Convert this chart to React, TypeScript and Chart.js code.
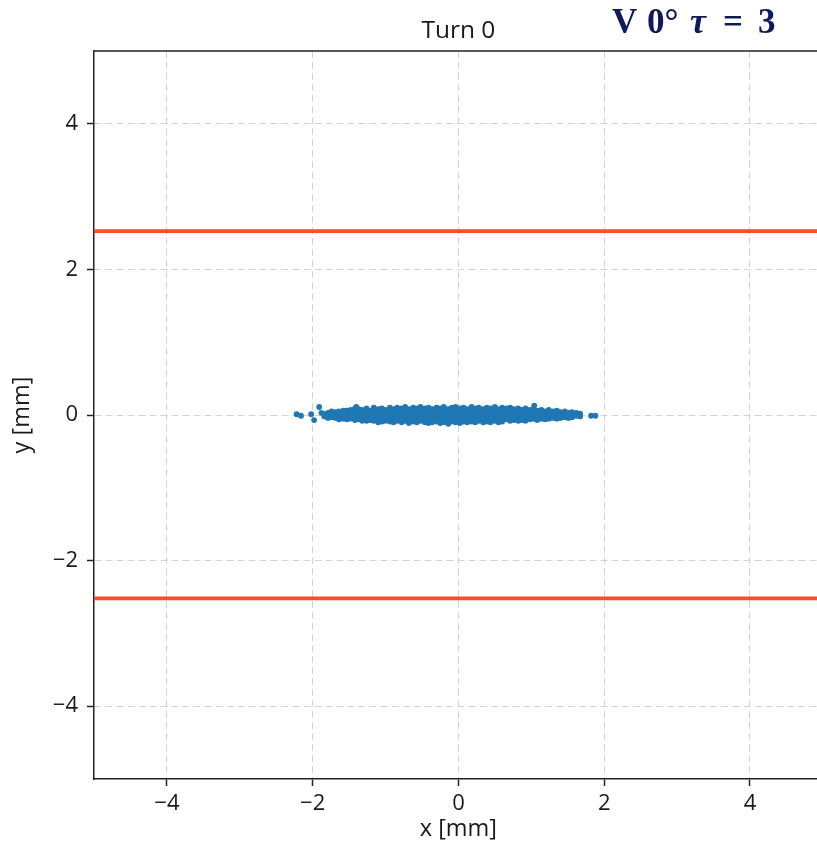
import { useEffect, useRef } from "react";
import { Chart, registerables } from "chart.js";

Chart.register(...registerables);

const X_MIN = -5;
const X_MAX = 4.92;
const Y_MIN = -5;
const Y_MAX = 5;
const xTickValues = [-4, -2, 0, 2, 4];
const yTickValues = [-4, -2, 0, 2, 4];
const limitLines = [2.525, -2.52];

// particle cloud: [x, list of y values in that column]
const cloudColumns: [number, number[]][] = [
  [-1.84, [0.01, -0.02]],
  [-1.79, [0.03, -0.01, -0.04]],
  [-1.74, [0.02, -0.03, 0.05]],
  [-1.69, [0.04, 0.0, -0.04]],
  [-1.64, [0.05, 0.01, -0.03, -0.06]],
  [-1.58, [0.03, -0.02, -0.05, 0.06]],
  [-1.53, [0.06, 0.02, -0.02, -0.06]],
  [-1.48, [0.07, 0.03, -0.01, -0.05]],
  [-1.42, [0.05, 0.01, -0.04, -0.07, 0.09]],
  [-1.37, [0.08, 0.03, -0.02, -0.06]],
  [-1.32, [0.07, 0.02, -0.03, -0.08]],
  [-1.26, [0.09, 0.04, 0.0, -0.05, -0.08]],
  [-1.21, [0.06, 0.02, -0.03, -0.07]],
  [-1.16, [0.1, 0.05, 0.0, -0.04, -0.08]],
  [-1.1, [0.08, 0.03, -0.02, -0.07, -0.1]],
  [-1.05, [0.09, 0.04, -0.01, -0.05, -0.09]],
  [-1.0, [0.07, 0.02, -0.03, -0.08]],
  [-0.94, [0.1, 0.05, 0.0, -0.04, -0.09]],
  [-0.89, [0.08, 0.03, -0.02, -0.06, -0.1]],
  [-0.84, [0.1, 0.06, 0.01, -0.04, -0.08]],
  [-0.78, [0.09, 0.04, -0.01, -0.06, -0.1]],
  [-0.73, [0.11, 0.06, 0.01, -0.03, -0.08]],
  [-0.68, [0.08, 0.03, -0.02, -0.07, -0.11]],
  [-0.62, [0.1, 0.05, 0.0, -0.05, -0.09]],
  [-0.57, [0.09, 0.04, -0.01, -0.06, -0.1]],
  [-0.52, [0.11, 0.06, 0.02, -0.03, -0.08]],
  [-0.46, [0.09, 0.04, -0.01, -0.05, -0.1]],
  [-0.41, [0.1, 0.05, 0.0, -0.06, -0.11]],
  [-0.36, [0.08, 0.03, -0.02, -0.07, -0.1]],
  [-0.3, [0.1, 0.06, 0.01, -0.04, -0.09]],
  [-0.25, [0.09, 0.04, -0.01, -0.06, -0.11]],
  [-0.2, [0.11, 0.05, 0.0, -0.05, -0.1]],
  [-0.14, [0.08, 0.03, -0.02, -0.07, -0.12]],
  [-0.09, [0.1, 0.06, 0.01, -0.04, -0.09]],
  [-0.04, [0.11, 0.05, 0.0, -0.05, -0.1]],
  [0.02, [0.09, 0.04, -0.01, -0.06, -0.11]],
  [0.07, [0.1, 0.05, 0.0, -0.04, -0.09]],
  [0.12, [0.08, 0.03, -0.02, -0.07, -0.1]],
  [0.18, [0.11, 0.06, 0.01, -0.05, -0.09]],
  [0.23, [0.09, 0.04, -0.01, -0.06, -0.1]],
  [0.28, [0.1, 0.05, 0.0, -0.04, -0.08]],
  [0.34, [0.08, 0.03, -0.02, -0.07, -0.1]],
  [0.39, [0.1, 0.06, 0.01, -0.05, -0.09]],
  [0.44, [0.09, 0.04, -0.01, -0.06, -0.1]],
  [0.5, [0.11, 0.05, 0.0, -0.04, -0.08]],
  [0.55, [0.08, 0.03, -0.02, -0.07, -0.1]],
  [0.6, [0.1, 0.05, 0.0, -0.05, -0.09]],
  [0.66, [0.09, 0.04, -0.01, -0.06]],
  [0.71, [0.1, 0.06, 0.01, -0.04, -0.08]],
  [0.76, [0.08, 0.03, -0.02, -0.07]],
  [0.82, [0.09, 0.05, 0.0, -0.05, -0.08]],
  [0.87, [0.07, 0.02, -0.03, -0.07]],
  [0.92, [0.09, 0.04, 0.0, -0.05, -0.08]],
  [0.98, [0.07, 0.03, -0.02, -0.06]],
  [1.03, [0.08, 0.04, -0.01, -0.05]],
  [1.08, [0.06, 0.02, -0.03, -0.07]],
  [1.14, [0.07, 0.03, -0.01, -0.05]],
  [1.19, [0.05, 0.01, -0.03, -0.06]],
  [1.24, [0.07, 0.02, -0.02, -0.05]],
  [1.3, [0.05, 0.01, -0.04]],
  [1.35, [0.06, 0.02, -0.02, -0.05]],
  [1.4, [0.04, 0.0, -0.04]],
  [1.46, [0.05, 0.01, -0.03]],
  [1.51, [0.03, -0.01, -0.04]],
  [1.56, [0.04, 0.0, -0.03]],
  [1.62, [0.03, -0.01]],
  [1.67, [0.02, -0.02]],
];

const strayParticles: [number, number][] = [
  [-2.22, 0.01],
  [-2.16, -0.01],
  [-2.02, 0.01],
  [-1.98, -0.07],
  [-1.91, 0.11],
  [-1.88, 0.03],
  [-1.4, 0.11],
  [1.04, 0.13],
  [1.82, -0.01],
  [1.88, -0.01],
];

const TEXT_FONT = "'Open Sans', 'DejaVu Sans', sans-serif";
const TEXT_COLOR = "#1a1a1a";
const MATH_FONT = "'Liberation Serif', 'DejaVu Serif', serif";

const fmt = (v: number) => (v < 0 ? "\u2212" + Math.abs(v) : String(v));

const overlayPlugin = {
  id: "overlay",
  afterDraw(chart: any) {
    const { ctx, chartArea } = chart;
    ctx.save();
    // top frame
    ctx.strokeStyle = "#222222";
    ctx.lineWidth = 1.5;
    ctx.beginPath();
    ctx.moveTo(chartArea.left, chartArea.top);
    ctx.lineTo(chartArea.right, chartArea.top);
    ctx.stroke();

    const xs = chart.scales.x;
    const cx = (xs.getPixelForValue(-5) + xs.getPixelForValue(5)) / 2;

    ctx.fillStyle = TEXT_COLOR;
    ctx.textAlign = "center";
    ctx.textBaseline = "alphabetic";
    ctx.font = `24.5px ${TEXT_FONT}`;
    ctx.fillText("Turn 0", cx, 38);

    ctx.font = `23.5px ${TEXT_FONT}`;
    ctx.fillText("x [mm]", cx, 836);

    ctx.save();
    ctx.translate(29, (chartArea.top + chartArea.bottom) / 2);
    ctx.rotate(-Math.PI / 2);
    ctx.fillText("y [mm]", 0, 0);
    ctx.restore();

    // annotation
    ctx.fillStyle = "#111a58";
    ctx.textAlign = "left";
    ctx.font = `bold 35px ${MATH_FONT}`;
    ctx.fillText("V", 612, 33);
    ctx.fillText("0°", 647, 33);
    ctx.font = `bold italic 36px ${MATH_FONT}`;
    ctx.fillText("\u03C4", 690, 33);
    ctx.font = `bold 35px ${MATH_FONT}`;
    ctx.fillText("=", 723, 33);
    ctx.fillText("3", 758, 33);
    ctx.restore();
  },
};

export default function App() {
  const ref = useRef<HTMLCanvasElement | null>(null);

  useEffect(() => {
    if (!ref.current) return;
    const points: { x: number; y: number }[] = [];
    cloudColumns.forEach(([x, ys]) => ys.forEach((y) => points.push({ x, y })));
    strayParticles.forEach(([x, y]) => points.push({ x, y }));

    const lineSets = limitLines.map((y) => ({
      type: "line" as const,
      data: [
        { x: X_MIN, y },
        { x: X_MAX, y },
      ],
      borderColor: "#ff4b2b",
      borderWidth: 3.8,
      pointRadius: 0,
      fill: false,
    }));

    const gridCommon = {
      color: "rgba(200,200,200,0.8)",
      lineWidth: 1,
      drawTicks: true,
      tickLength: 7,
      tickColor: "#222222",
      tickWidth: 1.5,
      tickBorderDash: [],
    };

    const chart = new Chart(ref.current, {
      type: "scatter",
      data: {
        datasets: [
          {
            data: points,
            backgroundColor: "#1f77b4",
            borderColor: "#1f77b4",
            borderWidth: 0,
            pointRadius: 2.9,
          } as any,
          ...(lineSets as any[]),
        ],
      },
      options: {
        animation: false,
        responsive: false,
        devicePixelRatio: 1,
        layout: { autoPadding: false, padding: { top: 51, left: 0, right: 0, bottom: 0 } },
        plugins: { legend: { display: false }, tooltip: { enabled: false }, title: { display: false } },
        scales: {
          x: {
            type: "linear",
            min: X_MIN,
            max: X_MAX,
            afterFit: (s: any) => {
              s.height = 67;
            },
            afterBuildTicks: (s: any) => {
              s.ticks = xTickValues.map((value) => ({ value }));
            },
            grid: gridCommon as any,
            border: { display: true, color: "#222222", width: 1.5, dash: [7, 4] },
            ticks: {
              callback: (v: any) => fmt(Number(v)),
              color: TEXT_COLOR,
              font: { family: TEXT_FONT, size: 22 },
              padding: 5,
              maxRotation: 0,
            },
          },
          y: {
            type: "linear",
            min: Y_MIN,
            max: Y_MAX,
            afterFit: (s: any) => {
              s.width = 94;
            },
            afterBuildTicks: (s: any) => {
              s.ticks = yTickValues.map((value) => ({ value }));
            },
            grid: gridCommon as any,
            border: { display: true, color: "#222222", width: 1.5, dash: [7, 4] },
            ticks: {
              callback: (v: any) => fmt(Number(v)),
              color: TEXT_COLOR,
              font: { family: TEXT_FONT, size: 22 },
              padding: 9,
            },
          },
        },
      },
      plugins: [overlayPlugin],
    });
    return () => chart.destroy();
  }, []);

  return (
    <div style={{ position: "fixed", left: 0, top: 0, width: 817, height: 846, background: "#fff" }}>
      <canvas ref={ref} width={817} height={846} style={{ width: 817, height: 846, display: "block" }} />
    </div>
  );
}
